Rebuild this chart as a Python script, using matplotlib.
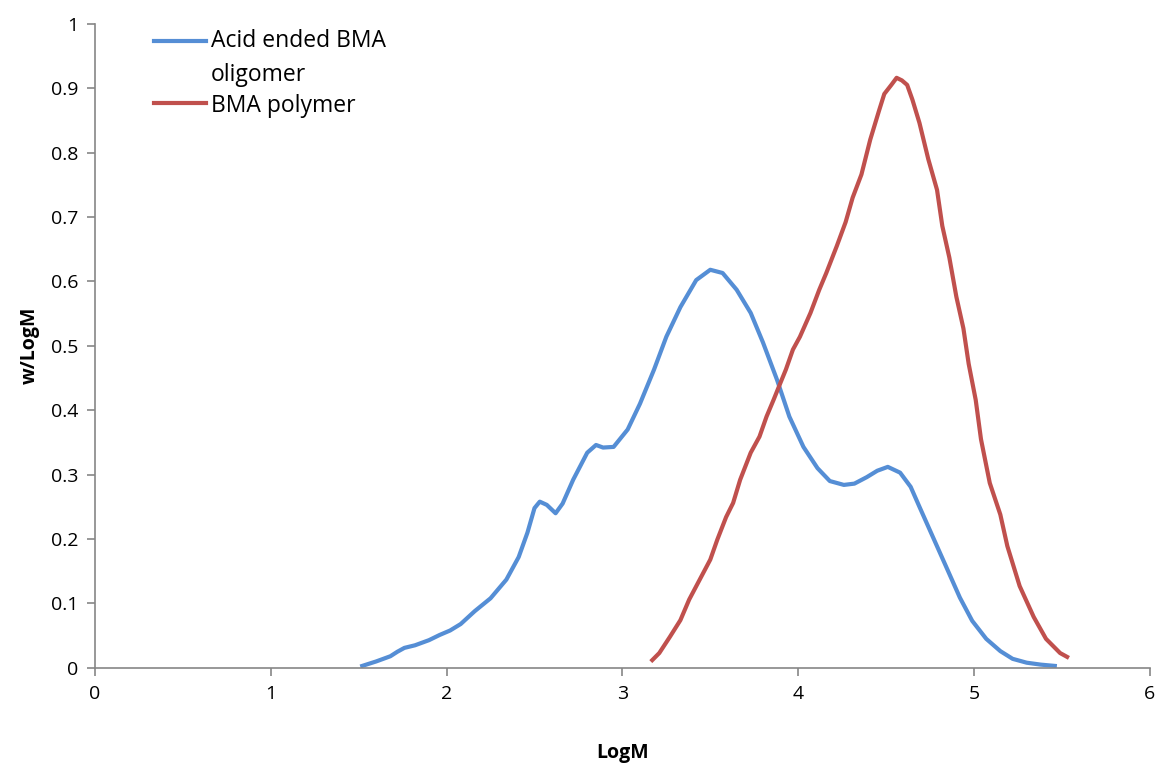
import matplotlib.pyplot as plt
from matplotlib.legend_handler import HandlerLine2D

plt.rcParams['font.family'] = ['Open Sans', 'DejaVu Sans']

# 酸封端BMA低聚物
logm_oligo = [1.52, 1.60, 1.68, 1.72, 1.76, 1.82, 1.90, 1.96, 2.02, 2.08, 2.16, 2.25,
              2.34, 2.41, 2.46, 2.50, 2.53, 2.57, 2.62, 2.66, 2.72, 2.80, 2.85, 2.89,
              2.95, 3.03, 3.10, 3.18, 3.25, 3.33, 3.42, 3.50, 3.57, 3.65, 3.73, 3.80,
              3.88, 3.95, 4.03, 4.11, 4.18, 4.26, 4.32, 4.39, 4.45, 4.51, 4.58, 4.64,
              4.69, 4.77, 4.85, 4.92, 4.99, 5.07, 5.15, 5.22, 5.30, 5.38, 5.46]
w_oligo = [0.003, 0.010, 0.018, 0.025, 0.031, 0.035, 0.043, 0.051, 0.058, 0.068, 0.088, 0.108,
           0.137, 0.172, 0.210, 0.248, 0.258, 0.253, 0.240, 0.255, 0.292, 0.334, 0.346, 0.342,
           0.343, 0.370, 0.410, 0.463, 0.514, 0.560, 0.602, 0.618, 0.613, 0.587, 0.551, 0.505,
           0.447, 0.390, 0.343, 0.310, 0.290, 0.284, 0.286, 0.296, 0.306, 0.312, 0.303, 0.281,
           0.250, 0.201, 0.152, 0.109, 0.073, 0.045, 0.026, 0.014, 0.008, 0.005, 0.003]

# BMA聚合物
logm_poly = [3.17, 3.21, 3.27, 3.33, 3.38, 3.44, 3.50, 3.54, 3.59, 3.63, 3.67, 3.73,
             3.78, 3.82, 3.86, 3.90, 3.93, 3.97, 4.01, 4.07, 4.12, 4.16, 4.22, 4.27,
             4.31, 4.36, 4.41, 4.46, 4.49, 4.53, 4.56, 4.59, 4.62, 4.65, 4.69, 4.74,
             4.79, 4.82, 4.86, 4.90, 4.94, 4.97, 5.01, 5.04, 5.09, 5.15, 5.19, 5.26,
             5.34, 5.41, 5.49, 5.53]
w_poly = [0.012, 0.023, 0.048, 0.074, 0.106, 0.137, 0.168, 0.199, 0.234, 0.256, 0.292, 0.334,
          0.359, 0.390, 0.416, 0.443, 0.463, 0.494, 0.514, 0.551, 0.587, 0.613, 0.655, 0.692,
          0.730, 0.766, 0.820, 0.865, 0.891, 0.905, 0.916, 0.912, 0.905, 0.882, 0.846, 0.790,
          0.742, 0.686, 0.637, 0.576, 0.527, 0.472, 0.416, 0.355, 0.287, 0.238, 0.189, 0.127,
          0.079, 0.045, 0.023, 0.017]


# 图例线条对齐第一行文字
class TopLine(HandlerLine2D):
    def __init__(self, y_fs, **kw):
        super().__init__(**kw)
        self.y_fs = y_fs

    def create_artists(self, legend, orig_handle, xdescent, ydescent, width, height, fontsize, trans):
        arts = super().create_artists(legend, orig_handle, xdescent, ydescent, width, height, fontsize, trans)
        for a in arts:
            a.set_ydata([fontsize * self.y_fs] * len(a.get_xdata()))
        return arts


fig = plt.figure(figsize=(11.59, 7.65), dpi=100)
ax = fig.add_axes([0.082, 0.127, 0.910, 0.842])

l1, = ax.plot(logm_oligo, w_oligo, color='#558ED5', lw=3, label='Acid ended BMA\noligomer')
l2, = ax.plot(logm_poly, w_poly, color='#C0504D', lw=3, label='BMA polymer')

ax.set_xlim(0, 6)
ax.set_ylim(0, 1)
ax.set_xticks(range(0, 7))
ax.set_yticks([i / 10 for i in range(11)])
ax.set_yticklabels(['0', '0.1', '0.2', '0.3', '0.4', '0.5', '0.6', '0.7', '0.8', '0.9', '1'])

for s in ['top', 'right']:
    ax.spines[s].set_visible(False)
for s in ['left', 'bottom']:
    ax.spines[s].set_color('#868686')
    ax.spines[s].set_linewidth(1.2)
ax.tick_params(direction='out', length=6, width=1.2, color='#868686', labelsize=14, pad=6)

ax.set_xlabel('LogM', fontsize=14, fontweight='bold', labelpad=29)
ax.set_ylabel('w/LogM', fontsize=14, fontweight='bold', labelpad=8)

leg = ax.legend(loc='upper left', bbox_to_anchor=(0.036, 1.024), frameon=False, fontsize=16.5,
                handlelength=2.3, handletextpad=0.2, labelspacing=0.3,
                handler_map={l1: TopLine(1.12), l2: TopLine(0.39)})
for t in leg.get_texts():
    t.set_linespacing(1.55)

plt.savefig('out.png', dpi=100)
